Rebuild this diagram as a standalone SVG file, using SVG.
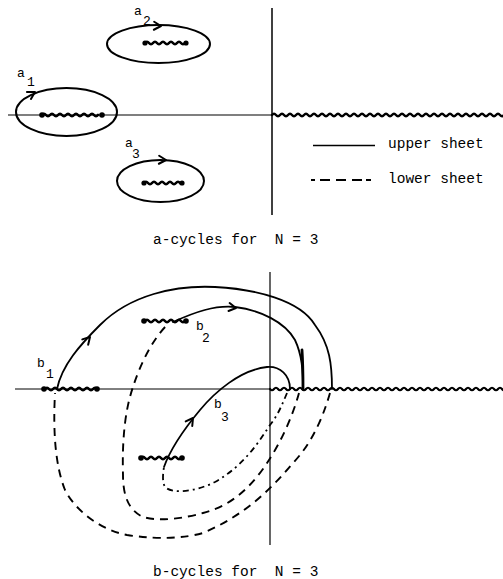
<svg xmlns="http://www.w3.org/2000/svg" width="503" height="579" viewBox="0 0 503 579">
<style>
.ax{stroke:#000;stroke-width:1.2;fill:none}
.cut{stroke:#000;stroke-width:2.6;fill:none;stroke-linecap:round}
.cyc{stroke:#000;stroke-width:2;fill:none}
.up{stroke:#000;stroke-width:1.8;fill:none;stroke-linecap:round}
.lo{stroke:#000;stroke-width:1.9;fill:none;stroke-dasharray:8 6}
.lo2{stroke:#000;stroke-width:1.8;fill:none;stroke-dasharray:6 4 2 4}
.dot{fill:#000}
text{font-family:"Liberation Mono","DejaVu Sans Mono",monospace;fill:#000}
.cap{font-size:14.5px}
.lb{font-size:13px}
</style>
<defs>
<path id="chev" d="M-7,-4 L0,0 L-7,4" fill="none" stroke="#000" stroke-width="2" stroke-linecap="round" stroke-linejoin="round"/>
</defs>

<!-- Top panel: a-cycles -->
<g id="axes-top">
<line class="ax" x1="8" y1="115" x2="272" y2="115"/>
<line class="ax" x1="272" y1="8" x2="272" y2="215" style="stroke-width:1.5"/>
<path class="cut" style="stroke-width:2.4" d="M272,115 q2,-2.5 4,0 t4,0 t4,0 t4,0 t4,0 t4,0 t4,0 t4,0 t4,0 t4,0 t4,0 t4,0 t4,0 t4,0 t4,0 t4,0 t4,0 t4,0 t4,0 t4,0 t4,0 t4,0 t4,0 t4,0 t4,0 t4,0 t4,0 t4,0 t4,0 t4,0 t4,0 t4,0 t4,0 t4,0 t4,0 t4,0 t4,0 t4,0 t4,0 t4,0 t4,0 t4,0 t4,0 t4,0 t4,0 t4,0 t4,0 t4,0 t4,0 t4,0 t4,0 t4,0 t4,0 t4,0 t4,0 t4,0 t4,0 t4,0 t4,0"/>
</g>

<g id="a1">
<ellipse class="cyc" cx="66.5" cy="112" rx="50.5" ry="24"/>
<path class="cut" d="M42,115 q2,-2.5 4,0 t4,0 t4,0 t4,0 t4,0 t4,0 t4,0 t4,0 t4,0 t4,0 t4,0 t4,0 t4,0 t4,0"/>
<circle class="dot" cx="42" cy="115" r="2.8"/>
<circle class="dot" cx="102" cy="115" r="2.8"/>
<use href="#chev" transform="translate(35,92) rotate(-30)"/>
<text class="lb" x="17" y="77">a</text>
<text class="lb" x="27" y="86">1</text>
</g>

<g id="a2">
<ellipse class="cyc" cx="158.5" cy="44" rx="51.5" ry="19"/>
<path class="cut" d="M145,43 q2,-2.5 4,0 t4,0 t4,0 t4,0 t4,0 t4,0 t4,0 t4,0 t4,0 t4,0"/>
<circle class="dot" cx="145" cy="43" r="2.6"/>
<circle class="dot" cx="186" cy="43" r="2.6"/>
<use href="#chev" transform="translate(161,26) rotate(2)"/>
<text class="lb" x="134" y="15">a</text>
<text class="lb" x="143" y="25">2</text>
</g>

<g id="a3">
<ellipse class="cyc" cx="160.5" cy="181" rx="43.5" ry="21"/>
<path class="cut" d="M144,183 q2,-2.5 4,0 t4,0 t4,0 t4,0 t4,0 t4,0 t4,0 t4,0 t4,0"/>
<circle class="dot" cx="144" cy="183" r="2.6"/>
<circle class="dot" cx="182" cy="183" r="2.6"/>
<use href="#chev" transform="translate(166,160) rotate(2)"/>
<text class="lb" x="125" y="147">a</text>
<text class="lb" x="132" y="158">3</text>
</g>

<g id="legend">
<line x1="313" y1="145.5" x2="375" y2="145.5" stroke="#000" stroke-width="1.3"/>
<text class="cap" x="388" y="148">upper sheet</text>
<line x1="311" y1="180" x2="376" y2="180" stroke="#000" stroke-width="2" stroke-dasharray="4 5 10 6 10 6 10"/>
<text class="cap" x="388" y="183">lower sheet</text>
</g>

<text class="cap" x="153" y="244" xml:space="preserve">a-cycles for  N = 3</text>

<!-- Bottom panel: b-cycles -->
<g id="axes-bottom">
<line class="ax" x1="15" y1="389" x2="270" y2="389" style="stroke-width:1"/>
<line class="ax" x1="270" y1="272" x2="270" y2="545"/>
<path class="cut" style="stroke-width:2.2" d="M270,389 q2,2.5 4,0 t4,0 t4,0 t4,0 t4,0 t4,0 t4,0 t4,0 t4,0 t4,0 t4,0 t4,0 t4,0 t4,0 t4,0 t4,0 t4,0 t4,0 t4,0 t4,0 t4,0 t4,0 t4,0 t4,0 t4,0 t4,0 t4,0 t4,0 t4,0 t4,0 t4,0 t4,0 t4,0 t4,0 t4,0 t4,0 t4,0 t4,0 t4,0 t4,0 t4,0 t4,0 t4,0 t4,0 t4,0 t4,0 t4,0 t4,0 t4,0 t4,0 t4,0 t4,0 t4,0 t4,0 t4,0 t4,0 t4,0 t4,0 t4,0"/>
</g>

<g id="b1">
<path class="cut" d="M45,389 q2,-2.5 4,0 t4,0 t4,0 t4,0 t4,0 t4,0 t4,0 t4,0 t4,0 t4,0 t4,0 t4,0 t4,0"/>
<circle class="dot" cx="44" cy="389" r="2.8"/>
<circle class="dot" cx="97" cy="389" r="2.8"/>
<text class="lb" x="37" y="367">b</text>
<text class="lb" x="46" y="378">1</text>
</g>

<g id="b2">
<path class="cut" d="M145,321 q2,-2.5 4,0 t4,0 t4,0 t4,0 t4,0 t4,0 t4,0 t4,0 t4,0 t4,0"/>
<circle class="dot" cx="144" cy="321" r="2.8"/>
<circle class="dot" cx="186" cy="321" r="2.8"/>
<text class="lb" x="196" y="330">b</text>
<text class="lb" x="202" y="342">2</text>
</g>

<g id="b3">
<path class="cut" d="M141,458 q2,-2.5 4,0 t4,0 t4,0 t4,0 t4,0 t4,0 t4,0 t4,0 t4,0 t4,0"/>
<circle class="dot" cx="141" cy="458" r="2.8"/>
<circle class="dot" cx="182" cy="458" r="2.8"/>
<text class="lb" x="214" y="408">b</text>
<text class="lb" x="221" y="421">3</text>
</g>

<g id="connectors">
<!-- b1 cycle -->
<path class="up" d="M57,389 C62,365 80,345 100,325 C130,295 175,285 215,287 C255,289 300,300 315,325 C330,345 332,365 332,389"/>
<path class="lo" d="M330,393 C325,410 315,440 293,463 C270,490 245,515 203,533 C185,538 160,540 127,535 C100,530 75,510 65,490 C55,465 53,430 55,393"/>
<use href="#chev" transform="translate(90,337) rotate(-47)"/>
<!-- b2 cycle -->
<path class="up" d="M173,322 C195,312 215,305 235,307 C260,310 285,322 295,340 C302,355 303,370 303,389"/>
<path class="up" style="stroke-width:2.8" d="M302,350 C303,365 303,375 303,389"/>
<path class="lo" d="M299,393 C293,415 282,440 269,460 C255,482 235,505 203,513 C185,518 160,522 143,517 C128,510 123,495 123,475 C122,440 125,410 133,387 C140,365 152,340 167,325"/>
<use href="#chev" transform="translate(236,308) rotate(8)"/>
<!-- b3 cycle -->
<path class="up" d="M164,467 C170,450 185,428 200,410 C215,392 240,370 267,367 C280,366 290,375 290,389"/>
<path class="lo2" d="M287,393 C282,405 278,415 270,425 C260,440 245,465 215,482 C195,492 172,494 165,487 C162,482 163,473 164,467"/>
<use href="#chev" transform="translate(193,418) rotate(-55)"/>
</g>

<text class="cap" x="153" y="576" xml:space="preserve">b-cycles for  N = 3</text>
</svg>
